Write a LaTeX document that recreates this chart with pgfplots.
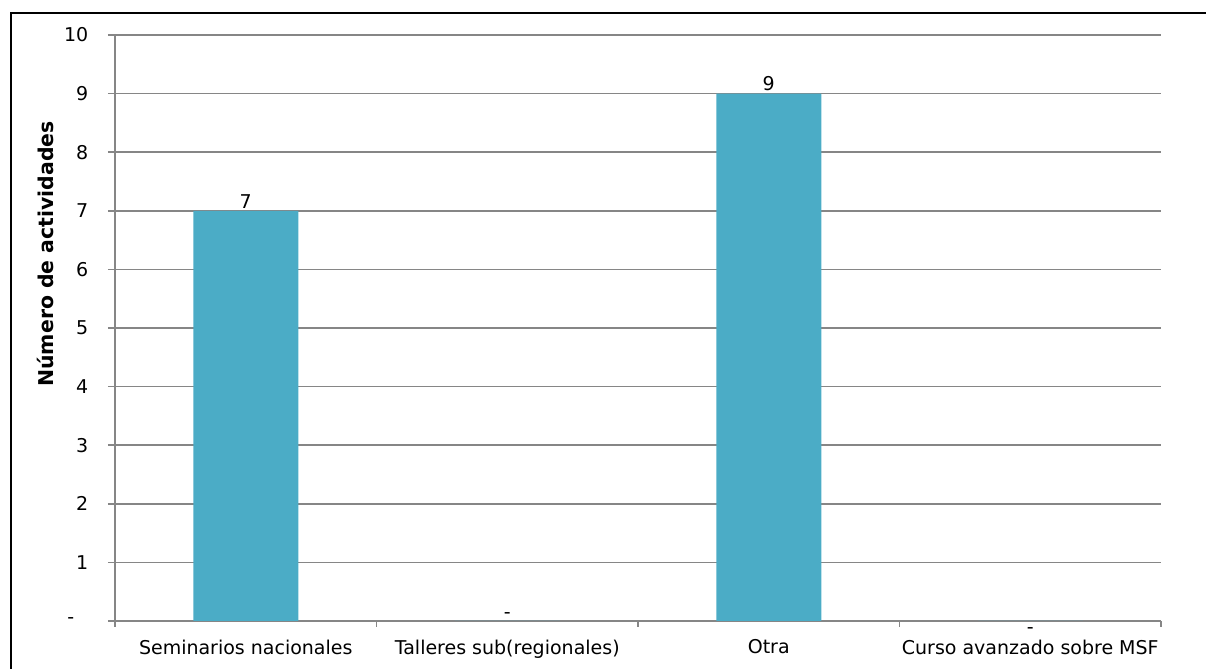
\documentclass[border=0pt]{standalone}
\usepackage{fontspec}
\setmainfont{DejaVu Sans}
\usepackage{pgfplots}
\pgfplotsset{compat=1.18}
\definecolor{barc}{HTML}{4BACC6}
\definecolor{gridc}{HTML}{868686}
\begin{document}
\fontsize{9.5pt}{11pt}\selectfont
\begin{tikzpicture}
\useasboundingbox (0pt,0pt) rectangle (603pt,334.5pt);
\draw[line width=0.75pt] (5.5pt,0pt) -- (5.5pt,328pt) -- (603pt,328pt);
\node[rotate=90,font=\bfseries\fontsize{10.2pt}{12pt}\selectfont] at (22.5pt,207.5pt) {Número de actividades};
\begin{axis}[at={(57.5pt,24pt)}, anchor=south west,
  scale only axis, width=523pt, height=293pt,
  xmin=-0.5, xmax=3.5, ymin=0, ymax=10,
  ybar, bar width=52.5pt,
  axis x line*=bottom, axis y line*=left,
  axis line style={gridc, line width=0.75pt, -},
  xtick={0,1,2,3},
  xticklabels={Seminarios nacionales, Talleres sub(regionales), Otra, Curso avanzado sobre MSF},
  minor xtick={-0.5,0.5,1.5,2.5,3.5},
  major x tick style={draw=none},
  minor x tick style={gridc, line width=0.75pt},
  minor tick length=3pt,
  ytick={0,1,...,10},
  yticklabels={-\rule{7pt}{0pt},1,2,3,4,5,6,7,8,9,10},
  ytick style={gridc, line width=0.75pt},
  major tick length=3.5pt,
  tick align=outside,
  ymajorgrids, grid style={gridc, line width=0.75pt},
  ticklabel style={font=\fontsize{9.5pt}{11pt}\selectfont},
  yticklabel style={xshift=-6.5pt},
  xticklabel style={yshift=-2.5pt},
  /pgf/number format/assume math mode=true,
  nodes near coords,
  point meta=explicit symbolic,
  nodes near coords style={font=\fontsize{9.5pt}{11pt}\selectfont, inner sep=1pt, anchor=south},
]
\addplot[fill=barc, draw=none, bar shift=0pt] table[x=x, y=y, meta=label] {
x y label
0 7 7
1 0 -
2 9 9
};
\addplot[fill=barc, draw=none, bar shift=0pt, nodes near coords style={anchor=north, inner sep=3pt}] table[x=x, y=y, meta=label] {
x y label
3 0 -
};
\end{axis}
\end{tikzpicture}
\end{document}
